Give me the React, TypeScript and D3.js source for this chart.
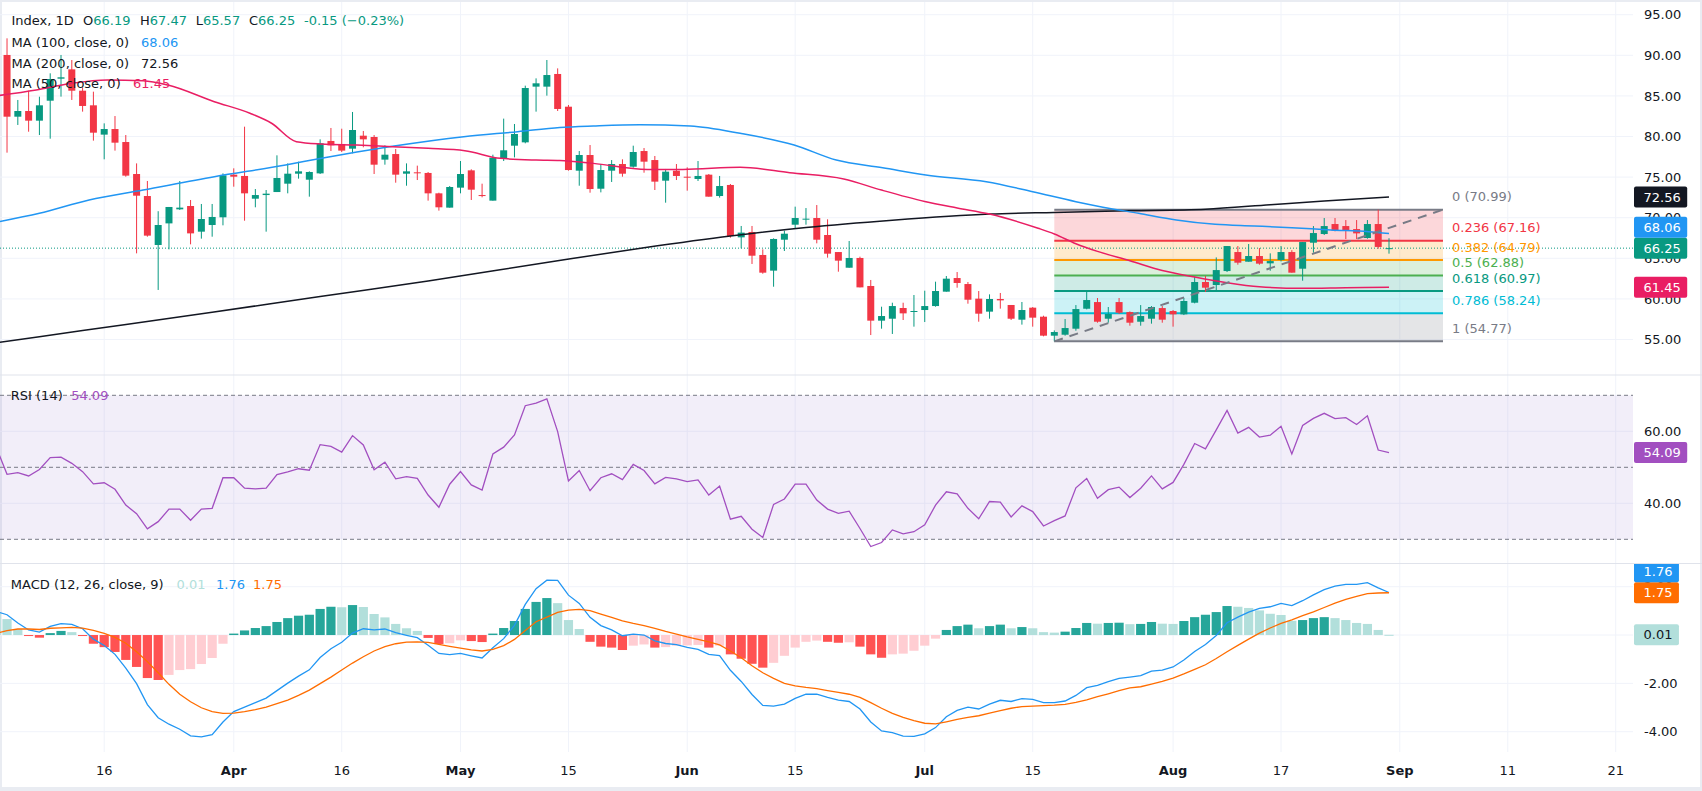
import * as d3 from "d3";

const W = 1702;
const H = 791;
const FONT = "'DejaVu Sans', sans-serif";
const TEXT = "#131722";
const UP = "#089981";
const DOWN = "#f23645";
const GRID = "#f0f3fa";

// bar index 0 = Mar 16; candles start at bar -9, indicator series at bar -10
const CANDLE_START = -9;
const open = [
  90.04, 82.44, 83.14, 81.95, 84.41, 87.12, 88.27, 85.64, 83.84,
  80.23, 80.92, 79.32, 75.38, 72.67, 66.64, 69.3, 71.03, 71.44, 68.28,
  69.1, 70.05, 75.3, 75.14, 72.34, 72.79, 73.16, 74.19, 75.42, 74.68,
  75.46, 79.45, 79.08, 78.5, 80.1, 79.94, 77.15, 77.84, 75.42, 75.59,
  75.51, 73.0, 71.24, 73.7, 75.83, 72.79, 72.1, 77.23, 78.87, 79.28,
  86.14, 86.14, 87.7, 83.67, 75.79, 77.72, 73.57, 75.79, 76.61, 76.28,
  78.21, 77.1, 74.56, 75.79, 75.05, 74.77, 75.3, 72.67, 74.03, 67.58,
  68.24, 65.41, 63.48, 67.29, 69.14, 69.8, 69.96, 67.87, 65.77, 63.84,
  65.04, 61.59, 57.32, 57.56, 58.88, 58.39, 58.63, 59.12, 60.89, 62.57,
  61.83, 60.03, 58.43, 59.99, 59.25, 57.44, 58.92, 57.81, 55.47, 55.59,
  56.33, 58.79, 59.61, 57.56, 59.61, 58.38, 57.19, 57.56, 58.87, 58.51,
  58.1, 59.53, 62.08, 61.71, 63.43, 65.77, 64.58, 65.28, 64.38, 64.79,
  65.77, 63.72, 66.92, 67.99, 69.22, 68.97, 68.6, 67.5, 69.22, 66.19,
];
const high = [
  92.09, 84.5, 85.64, 84.9, 87.78, 90.04, 89.42, 86.05, 85.52,
  81.62, 82.52, 80.18, 76.69, 74.52, 70.8, 71.32, 74.52, 72.18, 71.69,
  71.69, 75.46, 76.08, 81.21, 73.53, 73.41, 77.68, 76.69, 76.9, 75.71,
  79.65, 81.05, 80.96, 83.02, 80.68, 80.18, 78.91, 78.46, 76.69, 76.41,
  75.63, 73.08, 73.9, 76.98, 75.96, 74.19, 77.76, 82.2, 81.54, 86.26,
  87.16, 89.42, 88.39, 83.88, 78.21, 78.95, 76.61, 77.1, 77.19, 78.87,
  78.58, 77.6, 76.0, 76.61, 76.2, 76.98, 75.38, 75.14, 74.15, 68.98,
  68.98, 66.1, 67.46, 68.4, 71.36, 71.19, 71.56, 69.8, 65.77, 67.13,
  65.2, 62.33, 59.04, 59.53, 59.53, 60.48, 61.01, 62.12, 62.82, 63.31,
  62.08, 60.97, 60.56, 60.73, 59.25, 59.62, 59.0, 57.93, 56.12, 57.52,
  59.24, 60.97, 60.11, 59.0, 60.11, 58.46, 59.24, 59.12, 59.12, 58.63,
  60.11, 62.73, 62.82, 65.11, 66.51, 66.51, 66.76, 66.26, 65.61, 66.51,
  66.0, 67.0, 68.97, 69.96, 69.96, 69.71, 69.71, 69.71, 70.99, 67.47,
];
const low = [
  78.01, 81.42, 80.59, 80.18, 79.73, 84.91, 84.5, 83.06, 79.49,
  77.19, 78.26, 75.05, 65.61, 67.66, 61.1, 66.1, 70.95, 66.72, 67.42,
  67.66, 69.06, 73.82, 69.63, 71.28, 68.28, 73.16, 73.0, 74.81, 72.59,
  75.38, 78.21, 78.09, 77.93, 78.67, 75.38, 76.53, 74.31, 73.94, 74.64,
  72.1, 70.87, 71.24, 73.0, 72.18, 72.51, 72.1, 76.98, 77.43, 79.16,
  83.06, 85.03, 83.14, 75.79, 73.94, 73.08, 73.12, 74.4, 75.05, 76.16,
  75.54, 73.41, 71.85, 74.64, 73.33, 74.52, 72.59, 72.47, 67.54, 66.23,
  64.3, 63.1, 61.5, 65.9, 68.61, 69.14, 66.84, 65.08, 63.35, 63.84,
  61.42, 55.55, 56.33, 55.68, 57.4, 56.58, 57.15, 59.04, 60.89, 61.38,
  59.41, 57.19, 57.56, 58.8, 57.4, 56.83, 56.58, 55.39, 54.77, 55.47,
  56.08, 58.71, 57.07, 57.07, 58.14, 56.7, 56.7, 56.95, 57.07, 56.58,
  58.01, 59.45, 60.85, 61.09, 63.31, 64.21, 64.58, 64.21, 63.47, 64.62,
  63.23, 62.24, 65.69, 67.87, 68.32, 67.37, 67.37, 67.41, 66.18, 65.57,
];
const close = [
  82.44, 83.14, 81.95, 83.84, 87.08, 87.29, 85.64, 83.76, 80.47,
  80.92, 79.24, 75.18, 72.71, 67.79, 69.1, 71.32, 71.24, 68.07, 69.84,
  70.09, 75.22, 75.05, 73.0, 72.79, 72.96, 74.89, 75.42, 75.71, 75.63,
  79.16, 78.91, 78.26, 80.8, 79.65, 76.53, 77.76, 75.3, 75.71, 75.55,
  73.0, 71.28, 73.78, 75.38, 73.45, 72.71, 77.39, 78.3, 80.31, 85.97,
  86.55, 87.57, 83.39, 75.87, 77.72, 73.53, 75.87, 76.61, 75.42, 78.09,
  76.9, 74.44, 75.67, 75.14, 74.97, 75.14, 72.59, 73.9, 67.75, 68.16,
  65.32, 63.23, 67.38, 68.03, 69.96, 69.88, 67.29, 65.57, 64.71, 65.04,
  61.42, 57.32, 57.89, 59.12, 58.22, 58.51, 59.12, 60.97, 62.49, 61.96,
  59.9, 58.18, 59.99, 59.82, 57.56, 58.63, 57.69, 55.47, 55.92, 56.41,
  58.75, 59.86, 57.19, 58.14, 58.3, 57.07, 57.89, 59.0, 57.44, 58.1,
  59.74, 62.08, 61.38, 63.55, 66.51, 64.46, 65.28, 64.34, 64.66, 65.77,
  63.23, 67.0, 68.11, 68.97, 68.4, 68.48, 68.07, 69.22, 66.4, 66.25,
];

const IND_START = -10;
const rsi = [
  55.5, 48.05, 48.5, 47.6, 49.4, 52.7, 52.8, 51.1, 48.8, 45.4,
  45.7, 43.9, 39.5, 37.1, 32.9, 34.9, 38.4, 38.4, 35.3, 38.4,
  38.6, 47.1, 47.1, 44.2, 44.0, 44.2, 48.0, 48.7, 49.6, 49.2,
  56.3, 55.8, 54.2, 58.8, 56.2, 49.3, 51.4, 46.8, 47.4, 46.9,
  42.3, 38.9, 45.3, 48.8, 45.1, 43.7, 53.7, 55.6, 59.0, 67.1,
  67.8, 69.0, 59.9, 46.2, 49.1, 43.5, 47.1, 48.2, 46.6, 50.8,
  49.1, 45.4, 47.2, 46.8, 46.0, 46.5, 42.3, 44.8, 35.6, 36.4,
  32.8, 30.5, 39.7, 41.2, 45.3, 45.3, 40.9, 38.4, 37.2, 37.8,
  33.0, 28.0, 29.1, 32.6, 31.5, 32.1, 34.0, 39.5, 43.2, 42.6,
  38.6, 35.7, 40.5, 40.3, 36.2, 39.3, 37.7, 33.7, 35.2, 36.5,
  44.3, 46.9, 41.4, 43.8, 44.5, 41.6, 44.2, 47.6, 44.0, 45.8,
  50.8, 56.6, 55.1, 60.4, 65.8, 59.5, 61.1, 58.4, 58.9, 61.4,
  53.7, 61.6, 63.6, 65.0, 63.5, 63.8, 61.9, 64.3, 54.8, 54.09,
];
const macdSignal = [
  0.07, 0.18, 0.25, 0.25, 0.23, 0.28, 0.3, 0.32, 0.29, 0.19,
  0.07, -0.1, -0.34, -0.69, -1.1, -1.56, -2.04, -2.45, -2.76, -3.01,
  -3.17, -3.24, -3.23, -3.17, -3.09, -2.98, -2.84, -2.69, -2.5, -2.28,
  -2.01, -1.74, -1.45, -1.16, -0.9, -0.66, -0.48, -0.36, -0.29, -0.28,
  -0.3, -0.39, -0.47, -0.54, -0.61, -0.66, -0.59, -0.44, -0.18, 0.19,
  0.55, 0.74, 0.94, 1.03, 1.06, 1.01, 0.87, 0.73, 0.59, 0.48,
  0.39, 0.28, 0.15, 0.04, -0.08, -0.18, -0.28, -0.41, -0.66, -0.94,
  -1.27, -1.56, -1.79, -2.0, -2.1, -2.17, -2.22, -2.3, -2.37, -2.45,
  -2.58, -2.8, -3.03, -3.24, -3.41, -3.54, -3.65, -3.68, -3.59, -3.49,
  -3.41, -3.34, -3.23, -3.13, -3.03, -2.96, -2.94, -2.92, -2.9, -2.87,
  -2.79, -2.68, -2.55, -2.43, -2.3, -2.19, -2.14, -2.03, -1.92, -1.78,
  -1.61, -1.42, -1.23, -0.97, -0.69, -0.43, -0.17, 0.08, 0.29, 0.48,
  0.63, 0.8, 0.96, 1.14, 1.32, 1.48, 1.6, 1.71, 1.74, 1.75,
];
const macdHist = [
  0.9, 0.66, 0.25, -0.04, -0.11, 0.08, 0.17, 0.12, -0.03, -0.36,
  -0.5, -0.7, -1.03, -1.32, -1.78, -1.86, -1.65, -1.45, -1.41, -1.2,
  -0.95, -0.36, 0.06, 0.19, 0.29, 0.37, 0.54, 0.7, 0.8, 0.84,
  1.08, 1.17, 1.15, 1.24, 1.16, 0.87, 0.73, 0.46, 0.28, 0.17,
  -0.12, -0.37, -0.34, -0.22, -0.25, -0.29, 0.06, 0.29, 0.58, 1.08,
  1.37, 1.53, 1.32, 0.62, 0.25, -0.28, -0.48, -0.52, -0.62, -0.44,
  -0.39, -0.52, -0.5, -0.44, -0.43, -0.41, -0.52, -0.44, -0.8, -0.98,
  -1.19, -1.35, -1.15, -0.86, -0.52, -0.28, -0.23, -0.28, -0.32, -0.3,
  -0.48, -0.8, -0.94, -0.8, -0.77, -0.65, -0.44, -0.15, 0.21, 0.37,
  0.43, 0.28, 0.37, 0.43, 0.28, 0.33, 0.28, 0.12, 0.1, 0.14,
  0.29, 0.5, 0.47, 0.5, 0.51, 0.45, 0.46, 0.54, 0.47, 0.46,
  0.58, 0.74, 0.84, 0.95, 1.2, 1.17, 1.12, 1.02, 0.88, 0.83,
  0.59, 0.62, 0.7, 0.74, 0.7, 0.62, 0.5, 0.46, 0.21, 0.01,
];

// moving averages as [bar, value]
const ma100 = [
  [-10, 69.45], [-6, 70.54], [-1.4, 72.18], [3.6, 73.41], [10.2, 75.05], [16.8, 76.49],
  [20, 77.3], [23.4, 78.1], [26.7, 78.8], [33.3, 79.98], [38.3, 80.59], [42.2, 81.1],
  [45.3, 81.29], [49.6, 81.45], [54.3, 81.29], [58.9, 80.39], [63.9, 78.95], [67.8, 77.1],
  [72.1, 76.16], [76.1, 75.26], [81.7, 74.43], [86, 73.2], [90, 71.97], [92.5, 71.3],
  [95.8, 70.54], [99.3, 69.72], [102.9, 69.18], [106.5, 68.98], [110, 68.77], [113.6, 68.49],
  [117.1, 68.28], [119, 68.06],
];
const ma200 = [
  [-10, 54.6], [-2, 56.1], [10, 58.35], [20, 60.3], [30, 62.2], [42, 64.7], [50, 66.3],
  [58, 67.75], [65, 68.8], [73, 69.7], [82, 70.45], [88, 70.65], [95, 70.85], [102, 71.05],
  [108, 71.6], [113, 72.05], [119, 72.56],
];
const ma50 = [
  [-10, 85.0], [-6.3, 85.73], [-3, 86.55], [0.3, 86.96], [3.6, 86.87], [5.9, 86.34],
  [10.2, 84.29], [13.5, 82.86], [15.5, 81.63], [17.8, 79.36], [20.1, 79.08], [23.4, 78.95],
  [26.7, 78.74], [30, 78.54], [33.4, 78.25], [36.7, 77.31], [40, 77.1], [42.2, 77.05],
  [45.3, 76.69], [50.3, 75.95], [53.6, 75.95], [58.9, 76.2], [63.5, 75.54], [68.5, 74.77],
  [72, 73.4], [76, 72.0], [79, 71.2], [82, 70.45], [86.5, 68.7], [88, 68.0], [90, 66.8],
  [92, 65.85], [95, 64.7], [98, 63.5], [101, 62.7], [104, 62.0], [107, 61.5], [111, 61.3],
  [115, 61.38], [119, 61.45],
];

const timeTicks = [
  { i: 0, label: "16", month: false },
  { i: 12, label: "Apr", month: true },
  { i: 22, label: "16", month: false },
  { i: 33, label: "May", month: true },
  { i: 43, label: "15", month: false },
  { i: 54, label: "Jun", month: true },
  { i: 64, label: "15", month: false },
  { i: 76, label: "Jul", month: true },
  { i: 86, label: "15", month: false },
  { i: 99, label: "Aug", month: true },
  { i: 109, label: "17", month: false },
  { i: 120, label: "Sep", month: true },
  { i: 130, label: "11", month: false },
  { i: 140, label: "21", month: false },
];
const priceTicks = [55, 60, 65, 70, 75, 80, 85, 90, 95];
const rsiTicks = [40, 60];
const rsiLevels = [70, 50, 30];
const macdTicks = [2, 0, -2, -4];

const fibStart = { i: 88, v: 54.77 };
const fibEnd = { i: 124, v: 70.99 };
const fibRatios = [0, 0.236, 0.382, 0.5, 0.618, 0.786, 1];
const fibColors = ["#787b86", "#f23645", "#ff9800", "#4caf50", "#089981", "#00bcd4", "#787b86"];

const PLOT_R = 1633;
const MAIN = [0, 375];
const RSI_P = [375, 563.5];
const MACD_P = [564, 752];

function textW(s: string) {
  let w = 0;
  for (const ch of s) w += ch === "." ? 0.318 : ch === "-" ? 0.361 : 0.636;
  return w * 13;
}

function layout(items: any[]) {
  const placed: any[] = [];
  for (const it of items) {
    let y = it.y;
    for (let pass = 0; pass < 2; pass++) {
      for (const p of placed) {
        if (Math.abs(y - p.py) < 21) y = it.v >= p.v ? p.py - 21 : p.py + 21;
      }
    }
    placed.push({ ...it, py: y });
  }
  return placed;
}

function PriceBox({ it }: any) {
  const s = it.text;
  const w = textW(s) + 16;
  return (
    <g>
      <rect x={1634} y={it.py - 10.5} width={w} height={21} rx={2} fill={it.bg} />
      <text x={1643.5} y={it.py + 4.7} fill={it.fg || "#fff"} fontSize={13} fontFamily={FONT}>
        {s}
      </text>
    </g>
  );
}

export default function App() {
  const x = d3.scaleLinear().domain([0, 120]).range([104.2, 1399.8]);
  const yP = d3.scaleLinear().domain([95, 55]).range([14.7, 339.5]);
  const yR = d3.scaleLinear().domain([70, 30]).range([395.3, 539.3]);
  const yM = d3.scaleLinear().domain([2, -4]).range([586.7, 731.7]);

  const maLine = d3
    .line<number[]>()
    .x((d) => x(d[0]))
    .y((d) => yP(d[1]))
    .curve(d3.curveMonotoneX);

  const rsiPath = d3
    .line<number>()
    .x((_, k) => x(IND_START + k))
    .y((d) => yR(d))(rsi);
  const macdLine = macdSignal.map((s, k) => s + macdHist[k]);
  const macdPath = d3
    .line<number>()
    .x((_, k) => x(IND_START + k))
    .y((d) => yM(d))(macdLine);
  const signalPath = d3
    .line<number>()
    .x((_, k) => x(IND_START + k))
    .y((d) => yM(d))(macdSignal);

  const fibLevels = fibRatios.map((r, k) => ({
    r,
    v: fibEnd.v - r * (fibEnd.v - fibStart.v),
    color: fibColors[k],
  }));
  const fx0 = x(fibStart.i);
  const fx1 = x(fibEnd.i);

  const last = close.length - 1;
  const lastClose = close[last];
  const mainLabels = layout([
    { v: lastClose, y: yP(lastClose), text: lastClose.toFixed(2), bg: UP },
    { v: 68.06, y: yP(68.06), text: "68.06", bg: "#2196f3" },
    { v: 72.56, y: yP(72.56), text: "72.56", bg: "#131722" },
    { v: 61.45, y: yP(61.45), text: "61.45", bg: "#e91e63" },
  ]);
  const lastHist = macdHist[macdHist.length - 1];
  const lastSig = macdSignal[macdSignal.length - 1];
  const lastMacd = macdLine[macdLine.length - 1];
  const macdLabels = layout([
    { v: lastHist, y: yM(lastHist), text: lastHist.toFixed(2), bg: "#b2dfdb", fg: TEXT },
    { v: lastSig, y: yM(lastSig), text: lastSig.toFixed(2), bg: "#ff6d00" },
    { v: lastMacd, y: yM(lastMacd), text: lastMacd.toFixed(2), bg: "#2196f3" },
  ]);
  const lastRsi = rsi[rsi.length - 1];
  const rsiLabel = layout([{ v: lastRsi, y: yR(lastRsi), text: lastRsi.toFixed(2), bg: "#a24fc0" }]);

  const bw = 7;

  return (
    <div>
      <style>{"body{margin:0}"}</style>
      <svg width={W} height={H} style={{ display: "block" }} fontFamily={FONT}>
        <defs>
          <clipPath id="cMain">
            <rect x={0} y={MAIN[0]} width={PLOT_R} height={MAIN[1] - MAIN[0]} />
          </clipPath>
          <clipPath id="cRsi">
            <rect x={0} y={RSI_P[0]} width={PLOT_R} height={RSI_P[1] - RSI_P[0]} />
          </clipPath>
          <clipPath id="cMacd">
            <rect x={0} y={MACD_P[0]} width={PLOT_R} height={MACD_P[1] - MACD_P[0]} />
          </clipPath>
          <clipPath id="cMacdAxis">
            <rect x={PLOT_R} y={MACD_P[0]} width={W - PLOT_R} height={MACD_P[1] - MACD_P[0]} />
          </clipPath>
        </defs>
        <rect width={W} height={H} fill="#e9ecf2" />
        <rect x={2} y={2} width={W - 4} height={H - 6} fill="#fff" />

        {/* grid */}
        {timeTicks.map((t) => (
          <line key={"vg" + t.i} x1={x(t.i)} x2={x(t.i)} y1={2} y2={MACD_P[1]} stroke={GRID} />
        ))}
        {priceTicks.map((v) => (
          <line key={"pg" + v} x1={0} x2={PLOT_R} y1={yP(v)} y2={yP(v)} stroke={GRID} />
        ))}
        {rsiTicks.map((v) => (
          <line key={"rg" + v} x1={0} x2={PLOT_R} y1={yR(v)} y2={yR(v)} stroke={GRID} />
        ))}
        {macdTicks.map((v) => (
          <line key={"mg" + v} x1={0} x2={PLOT_R} y1={yM(v)} y2={yM(v)} stroke={GRID} />
        ))}

        {/* main pane */}
        <g clipPath="url(#cMain)">
          {fibLevels.slice(1).map((l, k) => (
            <rect
              key={"ff" + k}
              x={fx0}
              width={fx1 - fx0}
              y={yP(fibLevels[k].v)}
              height={yP(l.v) - yP(fibLevels[k].v)}
              fill={l.color}
              fillOpacity={0.2}
            />
          ))}
          {fibLevels.map((l) => (
            <line key={"fl" + l.r} x1={fx0} x2={fx1} y1={yP(l.v)} y2={yP(l.v)} stroke={l.color} strokeWidth={2} />
          ))}
          <line x1={0} x2={PLOT_R} y1={yP(lastClose)} y2={yP(lastClose)} stroke={UP} strokeDasharray="1 2" />
          {open.map((o, k) => {
            const i = CANDLE_START + k;
            const c = close[k];
            const col = c >= o ? UP : DOWN;
            const cx = x(i);
            const top = yP(Math.max(o, c));
            const bot = yP(Math.min(o, c));
            return (
              <g key={"c" + k}>
                <line x1={cx} x2={cx} y1={yP(high[k])} y2={yP(low[k])} stroke={col} />
                <rect x={cx - bw / 2} y={top} width={bw} height={Math.max(1, bot - top)} fill={col} />
              </g>
            );
          })}
          <path d={maLine(ma200 as any) || ""} fill="none" stroke="#131722" strokeWidth={1.5} />
          <path d={maLine(ma100 as any) || ""} fill="none" stroke="#2196f3" strokeWidth={1.5} />
          <path d={maLine(ma50 as any) || ""} fill="none" stroke="#e91e63" strokeWidth={1.5} />
          <line
            x1={fx0}
            y1={yP(fibStart.v)}
            x2={fx1}
            y2={yP(fibEnd.v)}
            stroke="#787b86"
            strokeWidth={2}
            strokeDasharray="9 7"
          />
        </g>
        {fibLevels.map((l) => (
          <text key={"ft" + l.r} x={fx1 + 9} y={yP(l.v) - 8.3} fill={l.color} fontSize={13}>
            {`${l.r} (${l.v.toFixed(2)})`}
          </text>
        ))}

        {/* RSI pane */}
        <line x1={0} x2={W} y1={RSI_P[0]} y2={RSI_P[0]} stroke="#e0e3eb" />
        <rect x={0} y={yR(70)} width={PLOT_R} height={yR(30) - yR(70)} fill="#7e57c2" fillOpacity={0.1} />
        {rsiLevels.map((v) => (
          <line key={"rl" + v} x1={0} x2={PLOT_R} y1={yR(v)} y2={yR(v)} stroke="#787b86" strokeDasharray="4 3" />
        ))}
        <g clipPath="url(#cRsi)">
          <path d={rsiPath || ""} fill="none" stroke="#a24fc0" strokeWidth={1.3} />
        </g>

        {/* MACD pane */}
        <line x1={0} x2={W} y1={RSI_P[1]} y2={RSI_P[1]} stroke="#e0e3eb" />
        <g clipPath="url(#cMacd)">
          {macdHist.map((h, k) => {
            const prev = k > 0 ? macdHist[k - 1] : Infinity;
            const col = h >= 0 ? (prev < h ? "#26a69a" : "#b2dfdb") : prev < h ? "#ffcdd2" : "#ff5252";
            const y0 = yM(0);
            const y1 = yM(h);
            const cx = x(IND_START + k);
            return (
              <rect
                key={"h" + k}
                x={cx - 4.6}
                width={9.2}
                y={Math.min(y0, y1)}
                height={Math.max(1, Math.abs(y1 - y0))}
                fill={col}
              />
            );
          })}
          <path d={macdPath || ""} fill="none" stroke="#2196f3" strokeWidth={1.3} />
          <path d={signalPath || ""} fill="none" stroke="#ff6d00" strokeWidth={1.3} />
        </g>

        {/* price axis */}
        {priceTicks.map((v) => (
          <text key={"pt" + v} x={1644} y={yP(v) + 4.7} fontSize={13} fill={TEXT}>
            {v.toFixed(2)}
          </text>
        ))}
        {rsiTicks.map((v) => (
          <text key={"rt" + v} x={1644} y={yR(v) + 4.7} fontSize={13} fill={TEXT}>
            {v.toFixed(2)}
          </text>
        ))}
        {macdTicks.map((v) => (
          <text key={"mt" + v} x={1644} y={yM(v) + 4.7} fontSize={13} fill={TEXT}>
            {v.toFixed(2)}
          </text>
        ))}
        {mainLabels.map((it) => (
          <PriceBox key={"ml" + it.text} it={it} />
        ))}
        {rsiLabel.map((it) => (
          <PriceBox key="rsil" it={it} />
        ))}
        <g clipPath="url(#cMacdAxis)">
          {macdLabels.map((it, k) => (
            <PriceBox key={"mcl" + k} it={it} />
          ))}
        </g>

        {/* time axis */}
        {timeTicks.map((t) => (
          <text
            key={"tt" + t.i}
            x={x(t.i)}
            y={774.7}
            textAnchor="middle"
            fontSize={13}
            fontWeight={t.month ? "bold" : "normal"}
            fill={TEXT}
          >
            {t.label}
          </text>
        ))}

        {/* legends */}
        <g fontSize={13} fill={TEXT}>
          <text x={11.5} y={25.4}>Index, 1D</text>
          <text x={83} y={25.4}>
            O<tspan fill={UP}>{open[last].toFixed(2)}</tspan>
          </text>
          <text x={140} y={25.4}>
            H<tspan fill={UP}>{high[last].toFixed(2)}</tspan>
          </text>
          <text x={195.7} y={25.4}>
            L<tspan fill={UP}>{low[last].toFixed(2)}</tspan>
          </text>
          <text x={249} y={25.4}>
            C<tspan fill={UP}>{lastClose.toFixed(2)}</tspan>
          </text>
          <text x={304} y={25.4} fill={UP}>
            -0.15 (−0.23%)
          </text>
          <text x={11.5} y={47}>MA (100, close, 0)</text>
          <text x={141} y={47} fill="#2196f3">68.06</text>
          <text x={11.5} y={67.7}>MA (200, close, 0)</text>
          <text x={141} y={67.7} fill={TEXT}>72.56</text>
          <text x={11.5} y={88.4}>MA (50, close, 0)</text>
          <text x={133} y={88.4} fill="#e91e63">61.45</text>
          <text x={10.8} y={400.4}>RSI (14)</text>
          <text x={71.2} y={400.4} fill="#a24fc0">{lastRsi.toFixed(2)}</text>
          <text x={10.8} y={588.7}>MACD (12, 26, close, 9)</text>
          <text x={176.5} y={588.7} fill="#b2dfdb">{lastHist.toFixed(2)}</text>
          <text x={216} y={588.7} fill="#2196f3">{lastMacd.toFixed(2)}</text>
          <text x={253} y={588.7} fill="#ff6d00">{lastSig.toFixed(2)}</text>
        </g>
      </svg>
    </div>
  );
}
